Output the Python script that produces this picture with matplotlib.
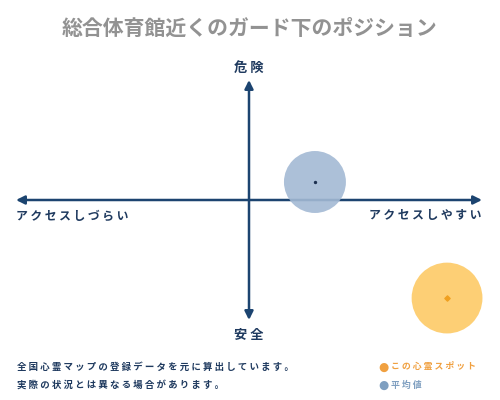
import matplotlib
matplotlib.use('Agg')
from matplotlib import pyplot as plt

plt.rcParams['font.family'] = ['Noto Sans CJK JP', 'DejaVu Sans']

title = '総合体育館近くのガード下のポジション'
x_labels = ['アクセスしづらい', 'アクセスしやすい']
y_labels = ['安全', '危険']
notes = ['全国心霊マップの登録データを元に算出しています。',
         '実際の状況とは異なる場合があります。']

names = ['この心霊スポット', '平均値']
x_vals = [0.85, 0.283]
y_vals = [-0.817, 0.15]
sizes = [2600, 1990]
fill_colors = ['#fdca66', '#a3b9d4']
dot_colors = ['#f0a020', '#1c3050']
text_colors = ['#f0a040', '#7f9fc0']
legend_colors = ['#f0a040', '#7f9fc0']

axis_color = '#1c4470'
navy = '#1f3a5f'


def spaced(s):
    return ' '.join(s)


fig = plt.figure(figsize=(5, 4), dpi=100)
ax = fig.add_axes([0.032, 0.2, 0.932, 0.6])
ax.set_xlim(-1, 1)
ax.set_ylim(-1, 1)
ax.axis('off')

ax.annotate('', xy=(1, 0), xytext=(-1, 0),
            arrowprops=dict(arrowstyle='<|-|>,head_length=0.5,head_width=0.25',
                            color=axis_color, lw=1.8, shrinkA=0, shrinkB=0))
ax.annotate('', xy=(0, 1), xytext=(0, -1),
            arrowprops=dict(arrowstyle='<|-|>,head_length=0.5,head_width=0.25',
                            color=axis_color, lw=1.8, shrinkA=0, shrinkB=0))

# average first, then this spot on top
for i in [1, 0]:
    ax.scatter(x_vals[i], y_vals[i], s=sizes[i], color=fill_colors[i],
               alpha=0.9, edgecolors='none', clip_on=False, zorder=3)
    ax.scatter(x_vals[i], y_vals[i], s=2 if i == 1 else 7, color=dot_colors[i],
               marker='o' if i == 1 else 'D', clip_on=False, zorder=4)

fig.text(0.5, 1 - 28 / 400, title, ha='center', va='center',
         fontsize=15, color='#929292', fontweight='bold')

fig.text(16 / 500, 1 - 216 / 400, spaced(x_labels[0]), ha='left', va='center',
         fontsize=8.5, color=navy, fontweight='bold')
fig.text(481 / 500, 1 - 216 / 400, spaced(x_labels[1]), ha='right', va='center',
         fontsize=8.5, color=navy, fontweight='bold')
fig.text(249 / 500, 1 - 68 / 400, spaced(y_labels[1]), ha='center', va='center',
         fontsize=9.5, color=navy, fontweight='bold')
fig.text(249 / 500, 1 - 335 / 400, spaced(y_labels[0]), ha='center', va='center',
         fontsize=9.5, color=navy, fontweight='bold')

fig.text(17 / 500, 1 - 367 / 400, spaced(notes[0]), ha='left', va='center',
         fontsize=6.8, color=navy, fontweight='bold')
fig.text(17 / 500, 1 - 385 / 400, spaced(notes[1]), ha='left', va='center',
         fontsize=6.8, color=navy, fontweight='bold')

for i, yy in enumerate([367, 385]):
    fig.text(383 / 500, 1 - yy / 400, '●', ha='center', va='center',
             fontsize=8.5, color=legend_colors[i], family=['DejaVu Sans'])
    fig.text(391 / 500, 1 - yy / 400, spaced(names[i]), ha='left', va='center',
             fontsize=6.4, color=text_colors[i], fontweight='bold')

fig.savefig('out.png', dpi=100)
